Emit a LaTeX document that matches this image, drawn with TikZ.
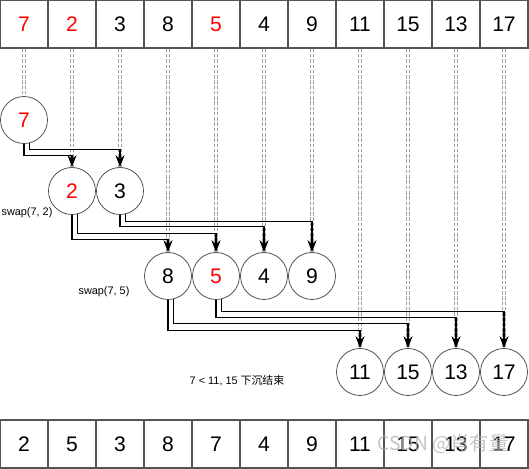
\documentclass[tikz,border=0pt]{standalone}
\usepackage{fontspec}
\setmainfont{Liberation Sans}
\newfontfamily\cjk{Noto Sans CJK SC}
\usetikzlibrary{arrows.meta, positioning, calc}
\definecolor{cRed}{RGB}{255,0,0}
\definecolor{cLine}{RGB}{85,85,85}
\tikzset{
	cell/.style    ={rectangle, draw=cLine, thick, minimum size=0.96cm, inner sep=0pt, font=\fontsize{12}{14}\selectfont},
	heapnode/.style={circle, draw=black!75, minimum size=0.94cm, inner sep=0pt, font=\fontsize{12}{14}\selectfont},
	guide/.style   ={draw=gray!75, dash pattern=on 2pt off 1pt, line width=0.45pt},
	link/.style    ={-{Stealth[length=2.4mm, width=1.8mm]}, semithick},
	note/.style    ={font=\fontsize{6.2}{7}\selectfont, inner sep=0pt},
}
\begin{document}
\begin{tikzpicture}[x=0.02cm, y=-0.02cm]
	\useasboundingbox (0,0) rectangle (529,469);
	% top and bottom arrays
	\foreach \v/\col [count=\i] in {7/cRed,2/cRed,3/black,8/black,5/cRed,4/black,9/black,11/black,15/black,13/black,17/black}
		\node[cell, text=\col] (t\i) at ({24+48*(\i-1)},24) {\v};
	\foreach \v [count=\i] in {2,5,3,8,7,4,9,11,15,13,17}
		\node[cell] (b\i) at ({24+48*(\i-1)},444) {\v};
	% heap as a tree
	\node[heapnode, text=cRed] (h1) at (24,120) {7};
	\node[heapnode, text=cRed] (h2) at (72,191) {2};
	\node[heapnode] (h3) at (120,191) {3};
	\foreach \v/\i/\col [count=\k from 0] in {8/4/black,5/5/cRed,4/6/black,9/7/black}
		\node[heapnode, text=\col] (h\i) at ({168+48*\k},276) {\v};
	\foreach \v/\i [count=\k from 0] in {11/8,15/9,13/10,17/11}
		\node[heapnode] (h\i) at ({360+48*\k},372) {\v};
	% guide lines from the array to the tree
	\foreach \i in {1,...,11} {
		\draw[guide] ([xshift=-0.04cm]t\i.south) -- ([xshift=-0.04cm]t\i.south |- h\i.north);
		\draw[guide] ([xshift=0.02cm]t\i.south) -- ([xshift=0.02cm]t\i.south |- h\i.north);
	}
	% parent to child
	\foreach \p/\a/\c/\d in {1/south/2/12, 1/-76/3/6, 2/south/4/25, 2/-76/5/19, 3/south/6/12, 3/-76/7/7, 4/south/8/31, 4/-76/9/24, 5/south/10/18, 5/-76/11/12}
		\draw[link] (h\p.\a) -- ++(0,\d) -| (h\c.north);
	% notes
	\node[note] (n1) at (27,213) {swap(7, 2)};
	\node[note] (n2) at (104,292) {swap(7, 5)};
	\node[note] (n3) at (237,381) {7 < 11, 15 {\cjk 下沉结束}};
	\node[font=\cjk\fontsize{11}{13}\selectfont, text=gray!60, opacity=0.75, inner sep=0pt] (wm) at (443,444) {CSDN @肖有量};
\end{tikzpicture}
\end{document}
